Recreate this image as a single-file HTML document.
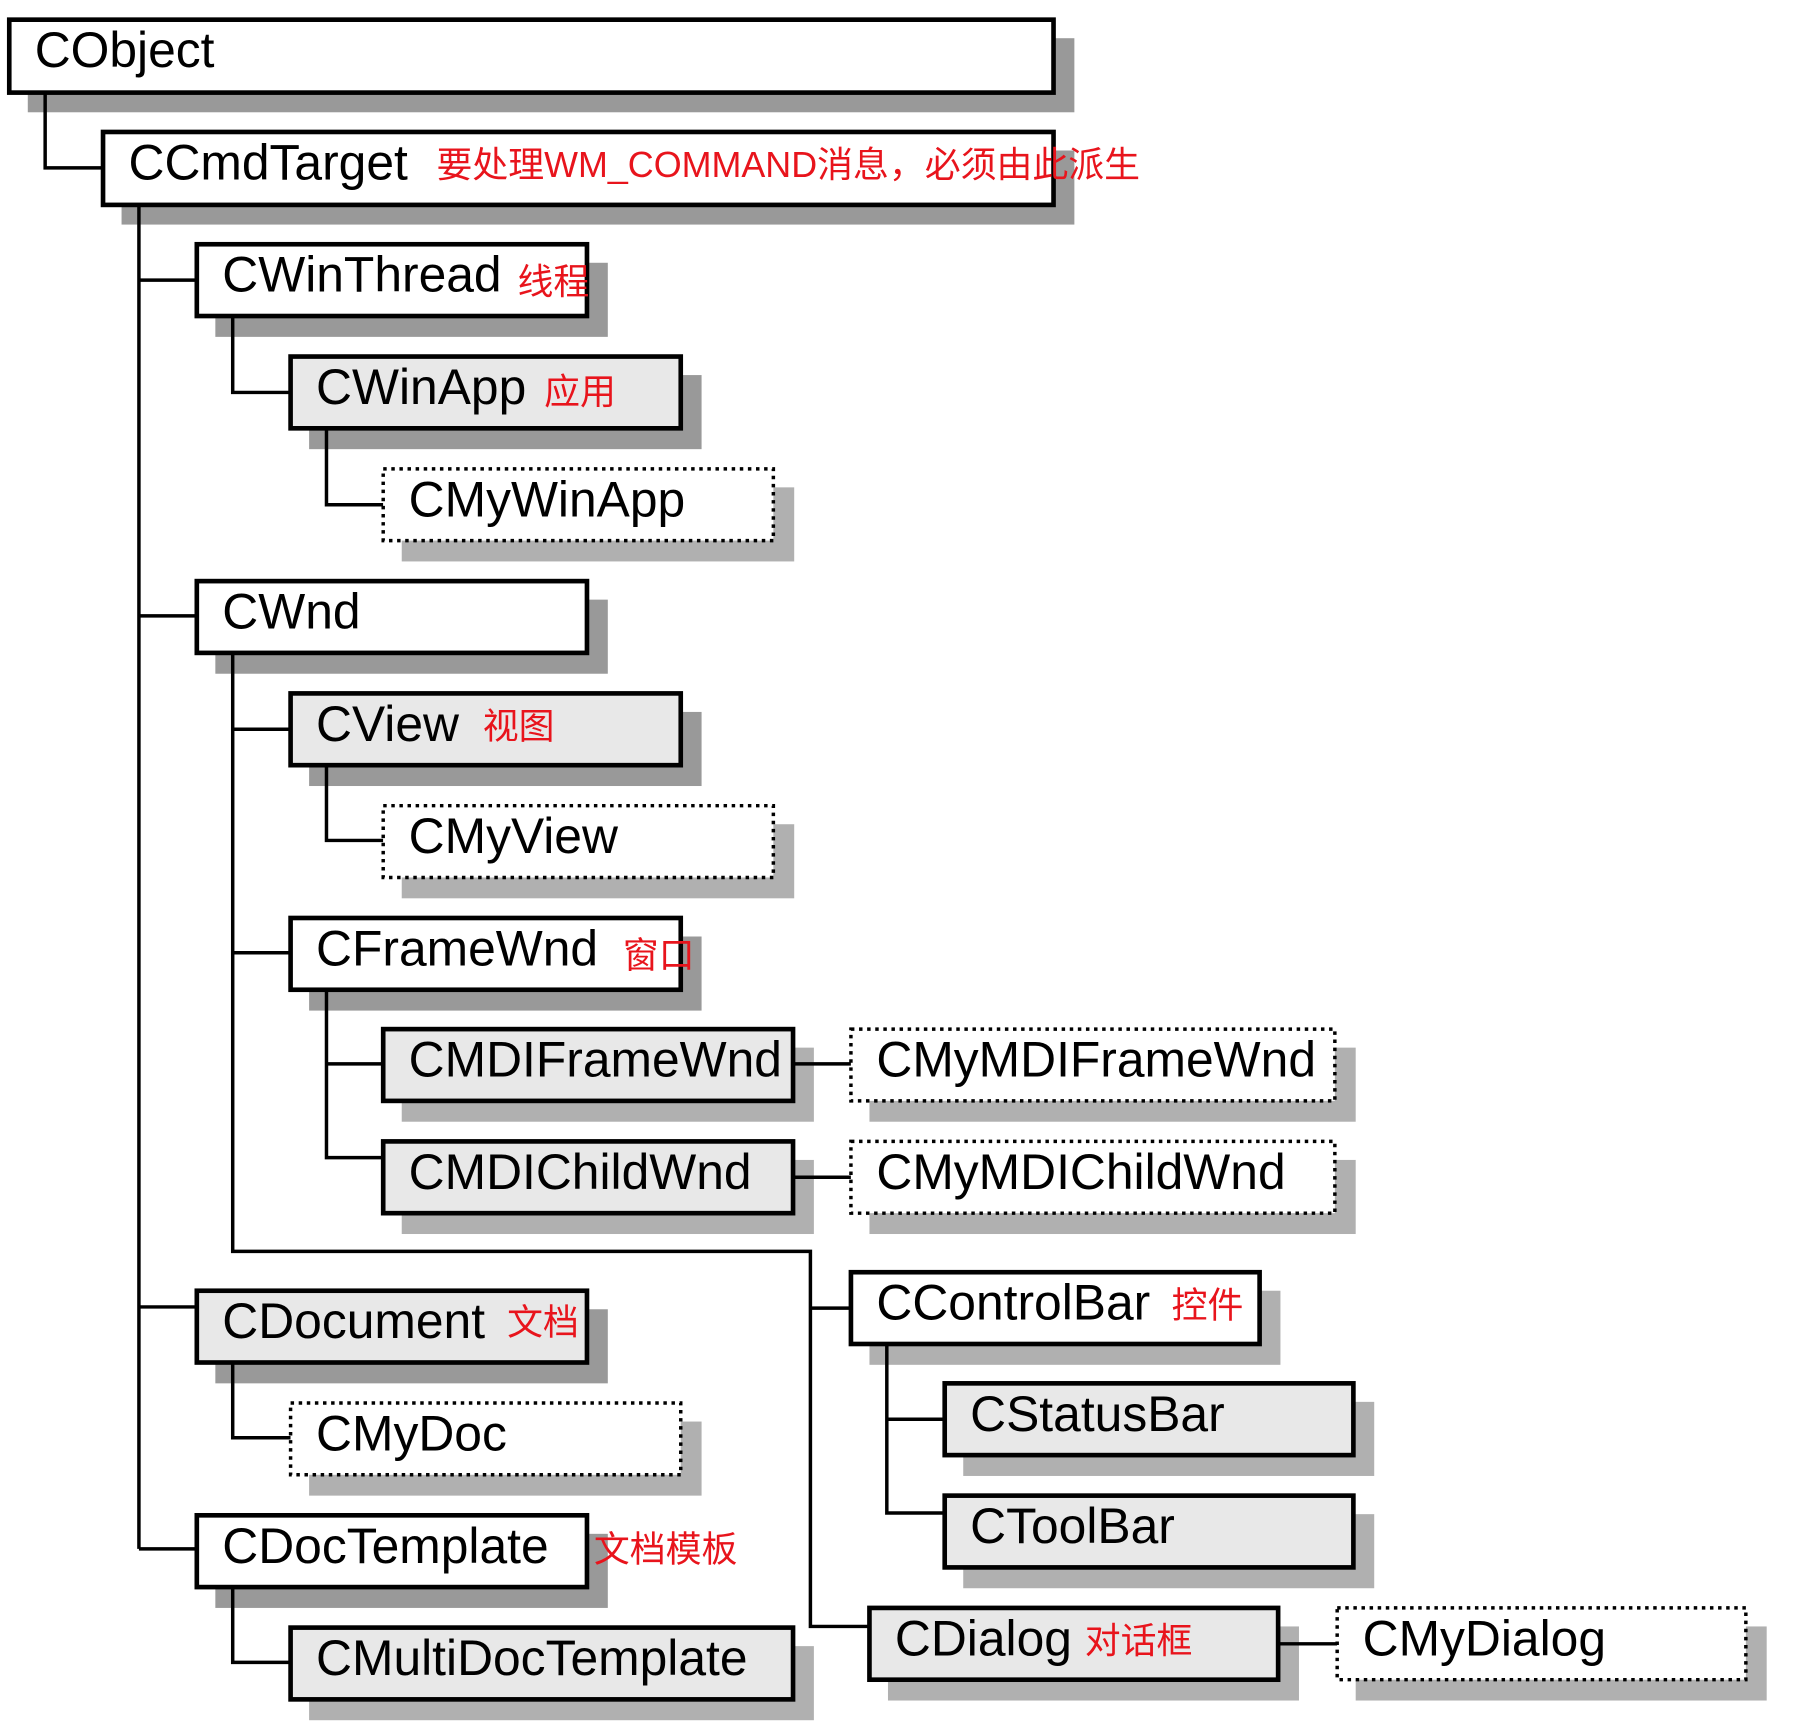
<!DOCTYPE html>
<html><head><meta charset="utf-8"><style>
html,body{margin:0;padding:0;background:#fff;}
svg{display:block;}
.t{font-family:"Liberation Sans","Noto Sans CJK SC",sans-serif;font-size:43px;fill:#000;}
.r{font-family:"Liberation Sans","Noto Sans CJK SC",sans-serif;font-size:31px;fill:#e8141c;}
</style></head><body>
<svg width="1813" height="1726" viewBox="0 0 1566 1491" preserveAspectRatio="none" xmlns="http://www.w3.org/2000/svg">
<g fill="#999">
<rect x="24" y="33" width="904" height="64"/>
<rect x="105" y="130" width="823" height="64"/>
<rect x="186" y="227" width="339" height="64"/>
<rect x="267" y="324" width="339" height="64"/>
<rect x="186" y="518" width="339" height="64"/>
<rect x="267" y="615" width="339" height="64"/>
<rect x="267" y="809" width="339" height="64"/>
<rect x="186" y="1131" width="339" height="64"/>
<rect x="186" y="1325" width="339" height="64"/>
</g>
<g fill="#b0b0b0">
<rect x="347" y="421" width="339" height="64"/>
<rect x="347" y="712" width="339" height="64"/>
<rect x="347" y="905" width="356" height="64"/>
<rect x="751" y="905" width="420" height="64"/>
<rect x="347" y="1002" width="356" height="64"/>
<rect x="751" y="1002" width="420" height="64"/>
<rect x="751" y="1115" width="355" height="64"/>
<rect x="832" y="1211" width="355" height="64"/>
<rect x="267" y="1228" width="339" height="64"/>
<rect x="832" y="1308" width="355" height="64"/>
<rect x="767" y="1405" width="355" height="64"/>
<rect x="1171" y="1405" width="355" height="64"/>
<rect x="267" y="1422" width="436" height="64"/>
</g>
<g fill="none" stroke="#000" stroke-width="3">
<polyline points="39,80 39,145 89,145"/>
<line x1="120" y1="177" x2="120" y2="1338"/>
<line x1="120" y1="242" x2="170" y2="242"/>
<line x1="120" y1="532" x2="170" y2="532"/>
<line x1="120" y1="1129" x2="170" y2="1129"/>
<line x1="120" y1="1338" x2="170" y2="1338"/>
<polyline points="201,273 201,339 251,339"/>
<polyline points="282,370 282,436 331,436"/>
<polyline points="201,564 201,1081 700,1081 700,1405 751,1405"/>
<line x1="201" y1="630" x2="251" y2="630"/>
<line x1="201" y1="823" x2="251" y2="823"/>
<line x1="700" y1="1130" x2="735" y2="1130"/>
<polyline points="282,661 282,726 331,726"/>
<polyline points="282,855 282,1000 331,1000"/>
<line x1="282" y1="919" x2="331" y2="919"/>
<line x1="685" y1="919" x2="735" y2="919"/>
<line x1="685" y1="1017" x2="735" y2="1017"/>
<polyline points="766,1161 766,1307 816,1307"/>
<line x1="766" y1="1226" x2="816" y2="1226"/>
<polyline points="201,1177 201,1242 251,1242"/>
<polyline points="201,1371 201,1436 251,1436"/>
<line x1="1104" y1="1420" x2="1155" y2="1420"/>
</g>
<g stroke="#000" stroke-width="4">
<rect x="8" y="17" width="902" height="63" fill="#fff"/>
<rect x="89" y="114" width="821" height="63" fill="#fff"/>
<rect x="170" y="211" width="337" height="62" fill="#fff"/>
<rect x="251" y="308" width="337" height="62" fill="#e8e8e8"/>
<rect x="170" y="502" width="337" height="62" fill="#fff"/>
<rect x="251" y="599" width="337" height="62" fill="#e8e8e8"/>
<rect x="251" y="793" width="337" height="62" fill="#fff"/>
<rect x="331" y="889" width="354" height="62" fill="#e8e8e8"/>
<rect x="331" y="986" width="354" height="62" fill="#e8e8e8"/>
<rect x="735" y="1099" width="353" height="62" fill="#fff"/>
<rect x="170" y="1115" width="337" height="62" fill="#e8e8e8"/>
<rect x="816" y="1195" width="353" height="62" fill="#e8e8e8"/>
<rect x="816" y="1292" width="353" height="62" fill="#e8e8e8"/>
<rect x="170" y="1309" width="337" height="62" fill="#fff"/>
<rect x="751" y="1389" width="353" height="62" fill="#e8e8e8"/>
<rect x="251" y="1406" width="434" height="62" fill="#e8e8e8"/>
</g>
<g stroke="#000" stroke-width="3" stroke-dasharray="3,4" fill="#fff">
<rect x="331" y="405" width="337" height="62"/>
<rect x="331" y="696" width="337" height="62"/>
<rect x="735" y="889" width="418" height="62"/>
<rect x="735" y="986" width="418" height="62"/>
<rect x="251" y="1212" width="337" height="62"/>
<rect x="1155" y="1389" width="353" height="62"/>
</g>
<text class="t" x="30" y="58">CObject</text>
<text class="t" x="111" y="155">CCmdTarget</text>
<text class="r" x="377" y="153">要处理WM_COMMAND消息，必须由此派生</text>
<text class="t" x="192" y="252">CWinThread</text>
<text class="r" x="447" y="254">线程</text>
<text class="t" x="273" y="349">CWinApp</text>
<text class="r" x="470" y="349">应用</text>
<text class="t" x="353" y="446">CMyWinApp</text>
<text class="t" x="192" y="543">CWnd</text>
<text class="t" x="273" y="640">CView</text>
<text class="r" x="417" y="638">视图</text>
<text class="t" x="353" y="737">CMyView</text>
<text class="t" x="273" y="834">CFrameWnd</text>
<text class="r" x="538" y="836">窗口</text>
<text class="t" x="353" y="930">CMDIFrameWnd</text>
<text class="t" x="757" y="930">CMyMDIFrameWnd</text>
<text class="t" x="353" y="1027">CMDIChildWnd</text>
<text class="t" x="757" y="1027">CMyMDIChildWnd</text>
<text class="t" x="757" y="1140">CControlBar</text>
<text class="r" x="1012" y="1138">控件</text>
<text class="t" x="192" y="1156">CDocument</text>
<text class="r" x="438" y="1153">文档</text>
<text class="t" x="838" y="1236">CStatusBar</text>
<text class="t" x="273" y="1253">CMyDoc</text>
<text class="t" x="838" y="1333">CToolBar</text>
<text class="t" x="192" y="1350">CDocTemplate</text>
<text class="r" x="513" y="1349">文档模板</text>
<text class="t" x="773" y="1430">CDialog</text>
<text class="r" x="937" y="1428">对话框</text>
<text class="t" x="1177" y="1430">CMyDialog</text>
<text class="t" x="273" y="1447">CMultiDocTemplate</text>
</svg>
</body></html>
